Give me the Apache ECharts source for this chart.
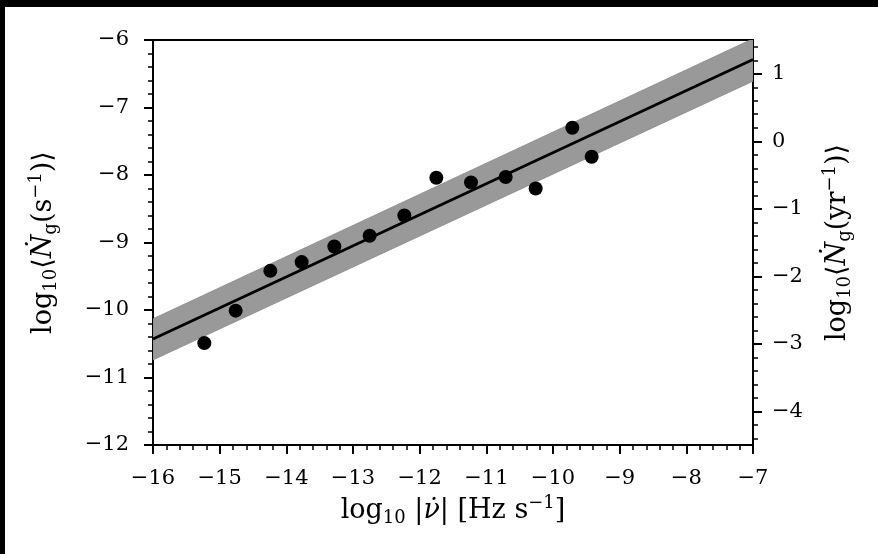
<!DOCTYPE html>
<html>
<head>
<meta charset="utf-8">
<script src="https://cdn.jsdelivr.net/npm/echarts@6/dist/echarts.min.js"></script>
<style>
html,body{margin:0;padding:0;background:#fff;}
#wrap{position:relative;width:878px;height:554px;overflow:hidden;}
#chart{position:absolute;left:0;top:0;width:878px;height:554px;}
.bk{position:absolute;background:#000;}
</style>
</head>
<body>
<div id="wrap">
<div id="chart"></div>
<div class="bk" style="left:0;top:0;width:878px;height:7px;"></div>
<div class="bk" style="left:0;top:0;width:5px;height:554px;"></div>
</div>
<script>
// Observed points: log10 |nu-dot| vs log10 <N_g (s^-1)>
const obsX = [-15.23, -14.76, -14.24, -13.77, -13.28, -12.75, -12.23, -11.75, -11.23, -10.71, -10.26, -9.71, -9.42];
const obsY = [-10.49, -10.01, -9.42, -9.29, -9.06, -8.90, -8.60, -8.04, -8.11, -8.03, -8.20, -7.30, -7.73];
// Fit line and band (read at the plot edges)
const fitX = [-16, -7];
const fitY = [-10.43, -6.29];
const bandLow = [-10.74, -6.61];
const bandHigh = [-10.13, -5.98];
// Tick positions
const xMin = -16, xMax = -7;
const yMin = -12, yMax = -6;
const yrMin = -4.5, yrMax = 1.5;
const rightMajor = [-4, -3, -2, -1, 0, 1];
const rightMinor = [-4.4, -4.2, -3.8, -3.6, -3.4, -3.2, -2.8, -2.6, -2.4, -2.2, -1.8, -1.6, -1.4, -1.2, -0.8, -0.6, -0.4, -0.2, 0.2, 0.4, 0.6, 0.8, 1.2, 1.4];

const FF = 'DejaVu Serif';
const fmt = v => String(v).replace('-', '\u2212');

const nameRich = {
  t: {fontFamily: FF, fontSize: 27, color: '#000'},
  i: {fontFamily: FF, fontSize: 27, fontStyle: 'italic', color: '#000'},
  s: {fontFamily: FF, fontSize: 18, color: '#000', padding: [14, 0, 0, 0]},
  p: {fontFamily: FF, fontSize: 18, color: '#000', padding: [0, 0, 16, 0]}
};

const chart = echarts.init(document.getElementById('chart'), null, {renderer: 'canvas'});
const pts = obsX.map((x, k) => [x, obsY[k]]);
const fit = fitX.map((x, k) => [x, fitY[k]]);
const bandRows = fitX.map((x, k) => [x, bandLow[k], bandHigh[k]]);

const tickCommon = {
  axisLine: {show: true, onZero: false, lineStyle: {color: '#000', width: 2}},
  axisTick: {show: true, inside: false, length: 9, lineStyle: {color: '#000', width: 2}},
  minorTick: {show: true, splitNumber: 5, length: 5, lineStyle: {color: '#000', width: 1.5}},
  splitLine: {show: false},
  minorSplitLine: {show: false}
};

chart.setOption({
  animation: false,
  backgroundColor: '#fff',
  grid: {left: 153, right: 125, top: 40, bottom: 109, show: true, borderColor: '#000', borderWidth: 2, backgroundColor: 'transparent', containLabel: false},
  xAxis: Object.assign({
    type: 'value', min: xMin, max: xMax, interval: 1, position: 'bottom',
    name: '{t|log}{s|10}{t| |}{i|\u03BD\u0307}{t|| [Hz s}{p|\u22121}{t|]}',
    nameLocation: 'middle', nameGap: 46,
    nameTextStyle: {rich: nameRich},
    axisLabel: {formatter: fmt, fontFamily: FF, fontSize: 21, color: '#000', margin: 23}
  }, tickCommon),
  yAxis: [
    Object.assign({
      type: 'value', min: yMin, max: yMax, interval: 1, position: 'left',
      name: '{t|log}{s|10}{t|\u27E8}{i|\u1E44}{s|g}{t|(s}{p|\u22121}{t|)\u27E9}',
      nameLocation: 'middle', nameGap: 92, nameRotate: 90,
      nameTextStyle: {rich: nameRich},
      axisLabel: {formatter: fmt, fontFamily: FF, fontSize: 21, color: '#000', margin: 24}
    }, tickCommon),
    {
      type: 'value', min: yrMin, max: yrMax, position: 'right',
      name: '{t|log}{s|10}{t|\u27E8}{i|\u1E44}{s|g}{t|(yr}{p|\u22121}{t|)\u27E9}',
      nameLocation: 'middle', nameGap: 68, nameRotate: 90,
      nameTextStyle: {rich: nameRich},
      axisLine: {show: true, onZero: false, lineStyle: {color: '#000', width: 2}},
      axisTick: {show: true, inside: false, length: 9, lineStyle: {color: '#000', width: 2}, customValues: rightMajor},
      axisLabel: {show: true, formatter: fmt, fontFamily: FF, fontSize: 21, color: '#000', margin: 19, customValues: rightMajor},
      splitLine: {show: false}
    },
    {
      type: 'value', min: yrMin, max: yrMax, position: 'right',
      axisLine: {show: false},
      axisTick: {show: true, inside: false, length: 5, lineStyle: {color: '#000', width: 1.5}, customValues: rightMinor},
      axisLabel: {show: false},
      splitLine: {show: false}
    }
  ],
  series: [
    {
      type: 'custom', data: bandRows, clip: true, silent: true, z: 1,
      renderItem: function (params, api) {
        if (params.dataIndex !== 0) return null;
        const lowPts = bandRows.map(r => api.coord([r[0], r[1]]));
        const highPts = bandRows.map(r => api.coord([r[0], r[2]])).reverse();
        return {
          type: 'polygon',
          shape: {points: lowPts.concat(highPts)},
          style: {fill: '#999999', stroke: '#8c8c8c', lineWidth: 0.8}
        };
      }
    },
    {type: 'line', data: fit, symbol: 'none', lineStyle: {color: '#000', width: 2.8}, z: 3},
    {type: 'scatter', data: pts, symbol: 'circle', symbolSize: 14, itemStyle: {color: '#000', opacity: 1}, z: 4}
  ]
});
</script>
</body>
</html>
